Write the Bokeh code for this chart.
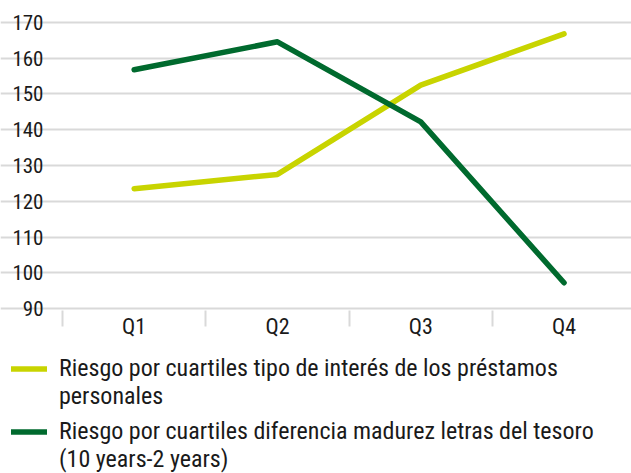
from bokeh.plotting import figure
from bokeh.models import Legend, LegendItem, FixedTicker, Range1d
from bokeh.embed import file_html
from bokeh.resources import INLINE

# ---- data ----
quarters = ["Q1", "Q2", "Q3", "Q4"]
tipo_interes = [123.5, 127.5, 152.5, 166.8]
diferencia_tesoro = [156.8, 164.6, 142.2, 97.2]
y_ticks = [90, 100, 110, 120, 130, 140, 150, 160, 170]
label_tipo = ["Riesgo por cuartiles tipo de interés de los préstamos", "personales"]
label_dif = ["Riesgo por cuartiles diferencia madurez letras del tesoro", "(10 years-2 years)"]

x_pos = [i + 0.5 for i in range(len(quarters))]
boundaries = [float(i) for i in range(len(quarters))]

FONT = "Roboto Condensed"
TXT = "#1a1a1a"
GRID = "#d9d9d9"
YELLOW = "#c8d400"
GREEN = "#006a2e"

# frame covers the whole figure; axes are pinned inside it
X0, X1 = -0.4327, 3.9707
GRID_X0 = -0.0977
Y0, Y1 = 43.85, 176.15

p = figure(width=631, height=473, output_backend="svg", toolbar_location=None,
           x_range=Range1d(X0, X1), y_range=Range1d(Y0, Y1),
           min_border=0)
p.outline_line_color = None

r1 = p.line(x_pos, tipo_interes, line_color=YELLOW, line_width=5.5,
            line_cap="round", line_join="round")
r2 = p.line(x_pos, diferencia_tesoro, line_color=GREEN, line_width=5.5,
            line_cap="round", line_join="round")

# y axis
p.yaxis.fixed_location = GRID_X0
p.yaxis.ticker = FixedTicker(ticks=y_ticks)
p.yaxis.axis_line_color = None
p.yaxis.major_tick_line_color = None
p.yaxis.minor_tick_line_color = None
p.yaxis.major_tick_out = 0
p.yaxis.major_tick_in = 0
p.yaxis.major_label_standoff = 5
p.yaxis.major_label_text_font = FONT
p.yaxis.major_label_text_font_size = "21px"
p.yaxis.major_label_text_color = TXT

# x axis
p.xaxis.fixed_location = 89.5
p.xaxis.ticker = FixedTicker(ticks=x_pos, minor_ticks=boundaries)
p.xaxis.major_label_overrides = {x: q for x, q in zip(x_pos, quarters)}
p.xaxis.axis_line_color = None
p.xaxis.major_tick_line_color = None
p.xaxis.major_tick_out = 0
p.xaxis.major_tick_in = 0
p.xaxis.minor_tick_line_color = GRID
p.xaxis.minor_tick_line_width = 2
p.xaxis.minor_tick_out = 16
p.xaxis.minor_tick_in = 0
p.xaxis.major_label_standoff = -12
p.xaxis.major_label_text_font = FONT
p.xaxis.major_label_text_font_size = "22px"
p.xaxis.major_label_text_color = TXT

p.xgrid.grid_line_color = None
p.ygrid.ticker = FixedTicker(ticks=y_ticks)
p.ygrid.bounds = (GRID_X0, X1)
p.ygrid.grid_line_color = GRID
p.ygrid.grid_line_width = 2


def make_legend(labels, renderer, loc):
    lg = Legend(items=[
        LegendItem(label=labels[0], renderers=[renderer]),
        LegendItem(label=labels[1], renderers=[]),
    ], location=loc)
    lg.padding = 0
    lg.margin = 0
    lg.spacing = 0
    lg.label_height = 25
    lg.glyph_height = 17
    lg.glyph_width = 36
    lg.label_standoff = 12
    lg.label_text_font = FONT
    lg.label_text_font_size = "24px"
    lg.label_text_color = TXT
    lg.border_line_color = None
    lg.background_fill_alpha = 0
    return lg


p.add_layout(make_legend(label_tipo, r1, (11, 63)), "center")
p.add_layout(make_legend(label_dif, r2, (11, 0)), "center")

open("out.html", "w").write(file_html(p, INLINE))
